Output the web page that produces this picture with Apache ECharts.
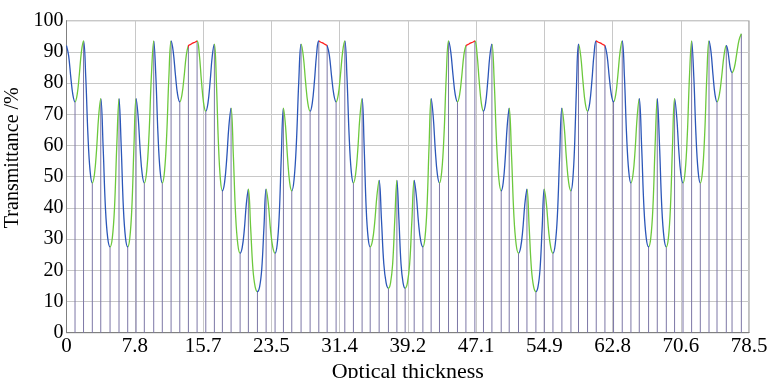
<!DOCTYPE html>
<html>
<head>
<meta charset="utf-8">
<script src="https://cdn.jsdelivr.net/npm/echarts@6/dist/echarts.min.js"></script>
<style>
  html, body { margin: 0; padding: 0; background: #fff; }
  #main { width: 772px; height: 378px; }
</style>
</head>
<body>
<div id="main"></div>
<script>
// turning points of the monitoring curve (layer boundaries), optical thickness
const turnX = [0, 0.98, 1.96, 2.97, 3.94, 5.01, 6.04, 7.04, 8.00, 8.95,
  10.03, 11.02, 12.03, 13.03, 14.02, 15.02, 16.02, 17.01, 17.93, 18.93,
  19.97, 20.92, 21.96, 22.96, 23.99, 24.95, 25.91, 26.98, 28.02, 29.02,
  29.98, 31.01, 32.01, 33.00, 34.00, 34.93, 35.96, 37.03, 38.00, 38.95,
  39.99, 40.99, 41.94, 42.90, 43.94, 44.97, 45.94, 46.97, 47.96, 48.93,
  50.00, 50.92, 51.99, 52.96, 53.99, 54.95, 55.95, 56.98, 58.02, 58.89,
  59.93, 60.93, 61.93, 62.92, 63.92, 64.92, 65.88, 66.95, 67.95, 68.99,
  69.94, 70.91, 71.90, 72.90, 73.90, 74.82, 75.89, 76.55, 77.62];

// transmittance at those turning points (%)
const turnT = [92, 74, 93.5, 48, 75, 27.5, 75, 27.5, 75, 48,
  93.5, 48, 93.5, 74, 92, 93.5, 71, 92.5, 45.5, 72,
  25.5, 46, 13.2, 46, 25.5, 72, 45.5, 92.5, 71, 93.5,
  92, 74, 93.5, 48, 75, 27.5, 48.8, 14.3, 48.8, 14.3,
  48.8, 27.5, 75, 48, 93.5, 74, 92, 93.5, 71, 92.5,
  45.5, 72, 25.5, 46, 13.2, 46, 25.5, 72, 45.5, 92.5,
  71, 93.5, 92, 74, 93.5, 48, 75, 27.5, 75, 27.5,
  75, 48, 93.5, 48, 93.5, 74, 92, 83.4, 95.8];

// where inside each layer the extra readings were taken (share of layer)
const innerFrac = [0.25, 0.5, 0.75];

// transmittance read inside each layer, at innerFrac
const innerT = [
  [88.8, 82.0, 76.2], [76.3, 82.6, 90.0], [82.1, 63.4, 51.7], [50.7, 58.5, 69.3],
  [59.9, 40.2, 30.3], [30.3, 40.2, 59.9], [59.9, 40.2, 30.3], [30.3, 40.2, 59.9],
  [69.3, 58.5, 50.7], [51.7, 63.4, 82.1], [82.1, 63.4, 51.7], [51.7, 63.4, 82.1],
  [90.0, 82.6, 76.3], [76.2, 82.0, 88.8], [92.4, 92.8, 93.1], [89.4, 80.7, 73.6],
  [73.5, 80.3, 88.6], [80.3, 61.0, 49.2], [48.1, 55.8, 66.3], [56.8, 37.7, 28.2],
  [27.3, 32.8, 41.2], [33.7, 20.5, 14.7], [14.7, 20.5, 33.7], [41.2, 32.8, 27.3],
  [28.2, 37.7, 56.8], [66.3, 55.8, 48.1], [49.2, 61.0, 80.3], [88.6, 80.3, 73.5],
  [73.6, 80.7, 89.4], [93.1, 92.8, 92.4], [88.8, 82.0, 76.2], [76.3, 82.6, 90.0],
  [82.1, 63.4, 51.7], [50.7, 58.5, 69.3], [59.9, 40.2, 30.3], [29.4, 35.2, 43.8],
  [36.1, 22.1, 16.0], [16.0, 22.1, 36.1], [36.1, 22.1, 16.0], [16.0, 22.1, 36.1],
  [43.8, 35.2, 29.4], [30.3, 40.2, 59.9], [69.3, 58.5, 50.7], [51.7, 63.4, 82.1],
  [90.0, 82.6, 76.3], [76.2, 82.0, 88.8], [92.4, 92.8, 93.1], [89.4, 80.7, 73.6],
  [73.5, 80.3, 88.6], [80.3, 61.0, 49.2], [48.1, 55.8, 66.3], [56.8, 37.7, 28.2],
  [27.3, 32.8, 41.2], [33.7, 20.5, 14.7], [14.7, 20.5, 33.7], [41.2, 32.8, 27.3],
  [28.2, 37.7, 56.8], [66.3, 55.8, 48.1], [49.2, 61.0, 80.3], [88.6, 80.3, 73.5],
  [73.6, 80.7, 89.4], [93.1, 92.8, 92.4], [88.8, 82.0, 76.2], [76.3, 82.6, 90.0],
  [82.1, 63.4, 51.7], [50.7, 58.5, 69.3], [59.9, 40.2, 30.3], [30.3, 40.2, 59.9],
  [59.9, 40.2, 30.3], [30.3, 40.2, 59.9], [69.3, 58.5, 50.7], [51.7, 63.4, 82.1],
  [82.1, 63.4, 51.7], [51.7, 63.4, 82.1], [90.0, 82.6, 76.3], [76.2, 82.0, 88.8],
  [90.6, 87.2, 84.3], [85.0, 89.4, 93.8]
];

// material of each layer: b = blue, g = green, r = red (78 layers)
const layerMat =
  "bgbgbgbgbgbgbg" + "r" +
  "gbgbgbgbgbgbgb" + "r" +
  "bgbgbgbgbgbgbgbg" + "r" +
  "gbgbgbgbgbgbgb" + "r" +
  "bgbgbgbgbgbgbgbg";
const matColor = { b: "#2b56b8", g: "#6cc83c", r: "#ff2020" };

const xTickLabels = ["0", "7.8", "15.7", "23.5", "31.4", "39.2", "47.1", "54.9", "62.8", "70.6", "78.5"];

const FONT = "'Liberation Serif', 'Times New Roman', serif";

// curve points: boundaries + the readings taken inside each layer
let curve = [[turnX[0], turnT[0]]];
let pieces = [];
for (let k = 1; k < turnX.length; k++) {
  let x0 = turnX[k - 1], x1 = turnX[k];
  innerFrac.forEach(function (f, j) {
    curve.push([x0 + f * (x1 - x0), innerT[k - 1][j]]);
  });
  curve.push([x1, turnT[k]]);
  let p = { gte: x0, color: matColor[layerMat[k - 1]] };
  if (k < turnX.length - 1) p.lt = x1; else p.lte = 80;
  pieces.push(p);
}

let stems = [];
for (let k = 1; k < turnX.length; k++) stems.push([turnX[k], turnT[k]]);

let chart = echarts.init(document.getElementById("main"));

chart.setOption({
  animation: false,
  backgroundColor: "#fff",
  grid: {
    left: 66.5, right: 23, top: 20.7, bottom: 45.3,
    outerBoundsMode: "none",
    show: true, borderColor: "#808080", borderWidth: 1
  },
  xAxis: {
    type: "value", min: 0, max: 78.5, interval: 7.85,
    name: "Optical thickness", nameLocation: "middle", nameGap: 26,
    nameTextStyle: { fontFamily: FONT, fontSize: 22, color: "#000" },
    axisLine: { lineStyle: { color: "#808080" } },
    axisTick: { show: false },
    splitLine: { show: true, lineStyle: { color: "#c8c8c8" } },
    axisLabel: {
      fontFamily: FONT, fontSize: 21, color: "#000", margin: 3,
      formatter: function (v) { return xTickLabels[Math.round(v / 7.85)]; }
    }
  },
  yAxis: {
    type: "value", min: 0, max: 100, interval: 10,
    name: "Transmittance /%", nameLocation: "middle", nameRotate: 90, nameGap: 40,
    nameTextStyle: { fontFamily: FONT, fontSize: 20, color: "#000", padding: [0, 0, 0, 38] },
    axisLine: { show: true, lineStyle: { color: "#808080" } },
    axisTick: { show: false },
    splitLine: { show: true, lineStyle: { color: "#c8c8c8" } },
    axisLabel: { fontFamily: FONT, fontSize: 20, color: "#000", margin: 3 }
  },
  visualMap: {
    type: "piecewise", show: false, dimension: 0, seriesIndex: 0,
    pieces: pieces
  },
  series: [
    {
      type: "line",
      data: curve,
      smooth: 0.4,
      showSymbol: false,
      lineStyle: { width: 1.3 },
      z: 4
    },
    {
      type: "custom",
      data: stems,
      z: 3,
      renderItem: function (params, api) {
        let top = api.coord([api.value(0), api.value(1)]);
        let bottom = api.coord([api.value(0), 0]);
        return {
          type: "line",
          shape: { x1: top[0], y1: top[1], x2: bottom[0], y2: bottom[1] },
          style: { stroke: "#7c77a6", lineWidth: 1 }
        };
      }
    }
  ]
});
</script>
</body>
</html>
